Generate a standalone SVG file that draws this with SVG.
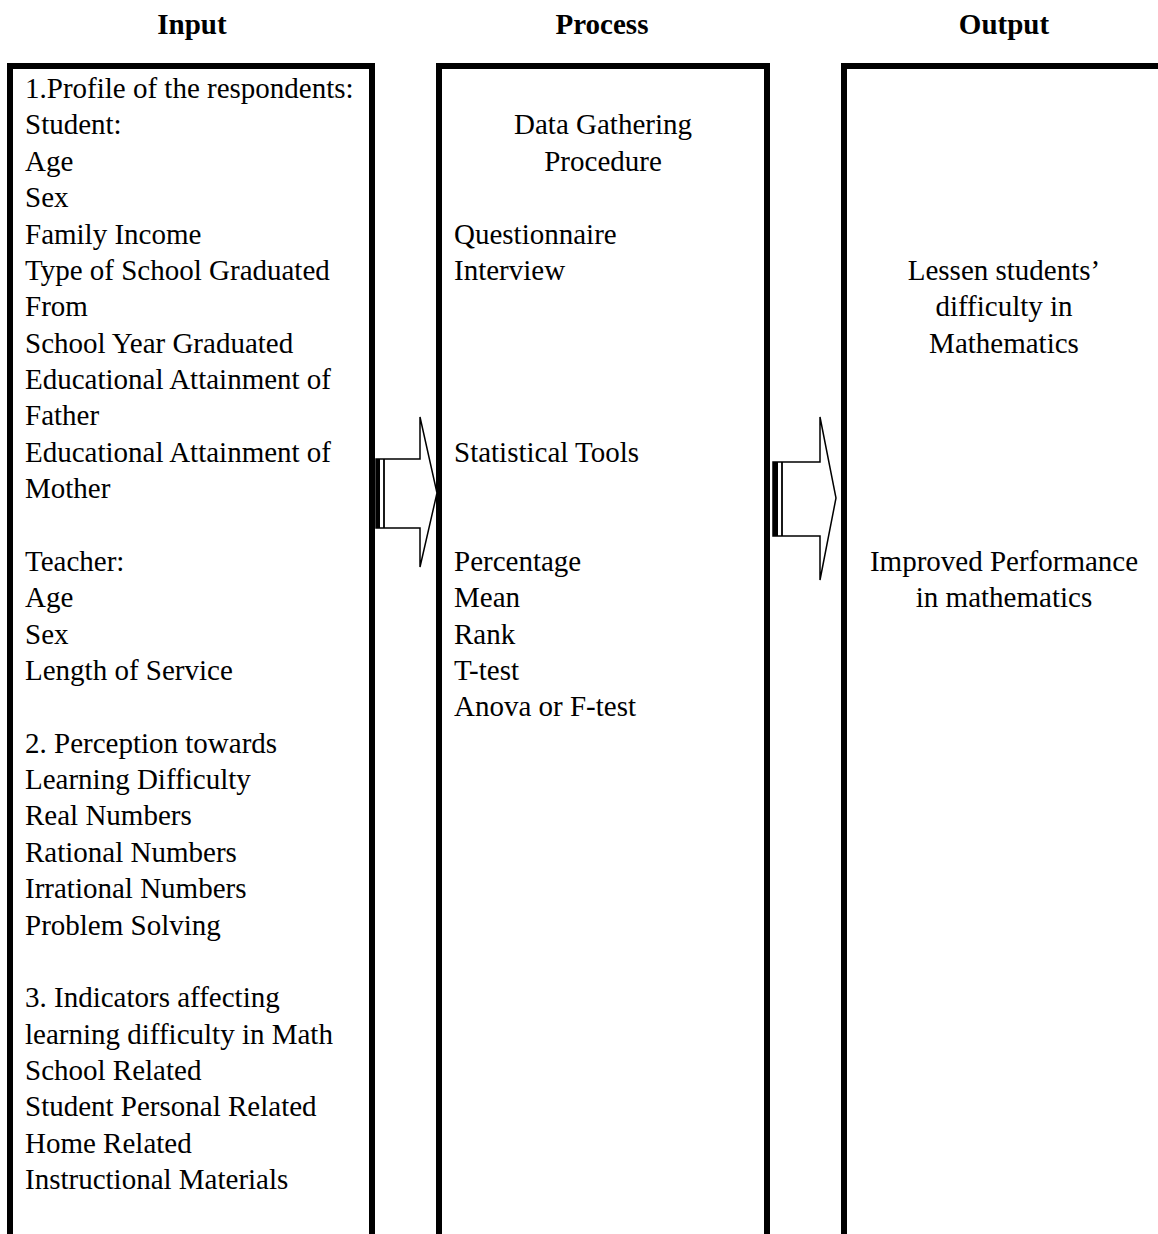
<svg xmlns="http://www.w3.org/2000/svg" width="1158" height="1234" viewBox="0 0 1158 1234">
<style>
text{font-family:"Liberation Serif","Times New Roman",serif;font-size:29px;fill:#000}
.h{font-weight:bold;text-anchor:middle}
.c{text-anchor:middle}
.box{fill:none;stroke:#000;stroke-width:6;stroke-linejoin:miter}
.arr{fill:#fff;stroke:#000;stroke-width:1.5;stroke-linejoin:miter}
</style>
<rect width="1158" height="1234" fill="#fff"/>
<g id="headers">
<text class="h" x="192" y="34">Input</text>
<text class="h" x="602" y="34">Process</text>
<text class="h" x="1004" y="34">Output</text>
</g>
<g id="input">
<path class="box" d="M10,1240 V66 H372 V1240"/>
<text x="25" y="98">1.Profile of the respondents:</text>
<text x="25" y="134.4">Student:</text>
<text x="25" y="170.7">Age</text>
<text x="25" y="207.1">Sex</text>
<text x="25" y="243.5">Family Income</text>
<text x="25" y="279.9">Type of School Graduated</text>
<text x="25" y="316.2">From</text>
<text x="25" y="352.6">School Year Graduated</text>
<text x="25" y="389">Educational Attainment of</text>
<text x="25" y="425.3">Father</text>
<text x="25" y="461.7">Educational Attainment of</text>
<text x="25" y="498.1">Mother</text>
<text x="25" y="570.8">Teacher:</text>
<text x="25" y="607.2">Age</text>
<text x="25" y="643.6">Sex</text>
<text x="25" y="679.9">Length of Service</text>
<text x="25" y="752.7">2. Perception towards</text>
<text x="25" y="789">Learning Difficulty</text>
<text x="25" y="825.4">Real Numbers</text>
<text x="25" y="861.8">Rational Numbers</text>
<text x="25" y="898.1">Irrational Numbers</text>
<text x="25" y="934.5">Problem Solving</text>
<text x="25" y="1007.3">3. Indicators affecting</text>
<text x="25" y="1043.6">learning difficulty in Math</text>
<text x="25" y="1080">School Related</text>
<text x="25" y="1116.4">Student Personal Related</text>
<text x="25" y="1152.7">Home Related</text>
<text x="25" y="1189.1">Instructional Materials</text>
</g>
<g id="process">
<path class="box" d="M439,1240 V66 H767 V1240"/>
<text class="c" x="603" y="134.4">Data Gathering</text>
<text class="c" x="603" y="170.7">Procedure</text>
<text x="454" y="243.5">Questionnaire</text>
<text x="454" y="279.9">Interview</text>
<text x="454" y="461.7">Statistical Tools</text>
<text x="454" y="570.8">Percentage</text>
<text x="454" y="607.2">Mean</text>
<text x="454" y="643.6">Rank</text>
<text x="454" y="679.9">T-test</text>
<text x="454" y="716.3">Anova or F-test</text>
</g>
<g id="output">
<path class="box" d="M844,1240 V66 H1165"/>
<text class="c" x="1004" y="279.9">Lessen students’</text>
<text class="c" x="1004" y="316.2">difficulty in</text>
<text class="c" x="1004" y="352.6">Mathematics</text>
<text class="c" x="1004" y="570.8">Improved Performance</text>
<text class="c" x="1004" y="607.2">in mathematics</text>
</g>
<g id="connectors">
<polygon class="arr" points="376,459 420,459 420,417 437,493 420,567 420,528 376,528"/>
<rect x="376" y="459" width="4" height="69" fill="#000"/>
<line x1="384" y1="459" x2="384" y2="528" stroke="#000" stroke-width="1.8"/>
<polygon class="arr" points="773,462 820,462 820,417 836,498 820,580 820,536 773,536"/>
<rect x="773" y="462" width="5" height="74" fill="#000"/>
<line x1="782" y1="462" x2="782" y2="536" stroke="#000" stroke-width="1.8"/>
</g>
</svg>
